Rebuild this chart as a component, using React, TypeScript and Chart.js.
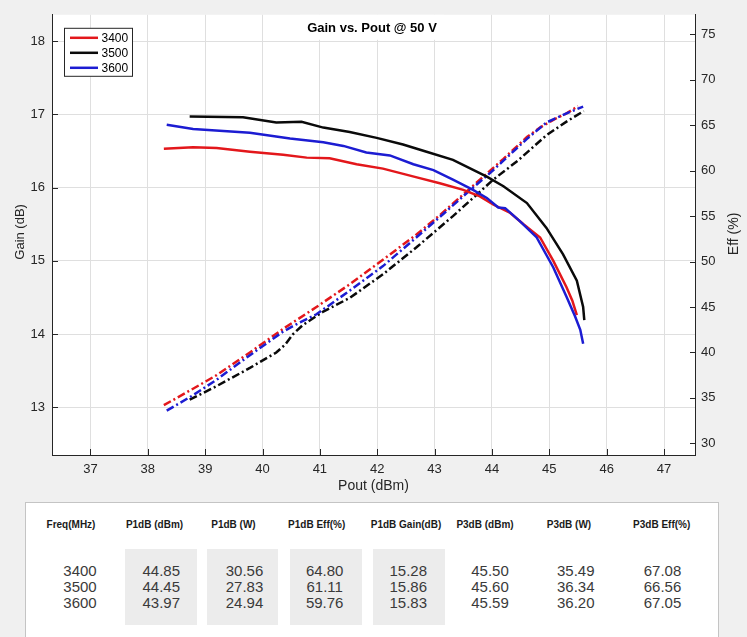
import React, { useEffect, useRef } from "react";
import { Chart, registerables } from "chart.js";

Chart.register(...registerables);

// ---------------- data ----------------
const TITLE = "Gain vs. Pout @ 50 V";
const X_TITLE = "Pout (dBm)";
const Y_TITLE = "Gain (dB)";
const Y1_TITLE = "Eff (%)";
const seriesNames = ["3400", "3500", "3600"];
const seriesColors = ["#e3171b", "#0a0a0a", "#1c1cd2"];

// Gain curves (Pout dBm -> Gain dB)
const gainX3400 = [38.28, 38.79, 39.2, 39.78, 40.36, 40.77, 41.17, 41.64, 42.1, 42.69, 43.09, 43.5, 43.79, 44.02, 44.31, 44.55, 44.84, 45.07, 45.3, 45.4, 45.48];
const gain3400 = [16.53, 16.55, 16.54, 16.49, 16.45, 16.41, 16.4, 16.32, 16.26, 16.14, 16.06, 15.97, 15.88, 15.77, 15.66, 15.5, 15.32, 15.0, 14.64, 14.46, 14.26];

const gainX3500 = [38.73, 39.66, 40.24, 40.68, 41.06, 41.52, 41.99, 42.45, 42.86, 43.32, 43.91, 44.2, 44.61, 44.95, 45.24, 45.48, 45.59, 45.61];
const gain3500 = [16.97, 16.96, 16.89, 16.9, 16.82, 16.76, 16.68, 16.59, 16.49, 16.38, 16.15, 16.02, 15.79, 15.45, 15.09, 14.73, 14.37, 14.19];

const gainX3600 = [38.33, 38.79, 39.78, 40.48, 41.06, 41.41, 41.81, 42.22, 42.63, 42.98, 43.32, 43.67, 43.91, 44.11, 44.23, 44.49, 44.78, 45.07, 45.3, 45.45, 45.54, 45.59];
const gain3600 = [16.86, 16.8, 16.75, 16.67, 16.62, 16.57, 16.48, 16.44, 16.32, 16.24, 16.11, 15.97, 15.86, 15.73, 15.72, 15.54, 15.32, 14.91, 14.51, 14.24, 14.06, 13.87];

// Efficiency curves (Pout dBm -> Eff %)
const effX3400 = [38.28, 38.73, 39.2, 39.78, 40.36, 40.94, 41.52, 42.1, 42.69, 43.09, 43.61, 44.2, 44.61, 44.85, 45.1, 45.3, 45.5];
const eff3400 = [34.2, 35.8, 37.5, 40.0, 42.6, 45.0, 47.5, 50.2, 53.0, 55.1, 58.0, 61.3, 63.7, 64.8, 65.7, 66.3, 67.1];

const effX3500 = [38.73, 39.2, 39.78, 40.24, 40.4, 40.53, 40.7, 41.06, 41.52, 42.1, 42.69, 43.32, 44.02, 44.45, 44.95, 45.3, 45.6];
const eff3500 = [34.8, 36.3, 38.3, 40.0, 40.9, 42.0, 43.0, 44.5, 46.0, 48.6, 51.6, 55.0, 59.0, 61.1, 63.9, 65.4, 66.56];

const effX3600 = [38.33, 38.79, 39.2, 39.78, 40.36, 40.59, 40.94, 41.52, 42.1, 42.69, 43.09, 43.61, 43.97, 44.2, 44.61, 44.95, 45.3, 45.59];
const eff3600 = [33.6, 35.3, 37.0, 39.7, 42.3, 43.1, 44.2, 46.8, 49.5, 52.7, 54.9, 57.8, 59.76, 61.1, 63.5, 65.3, 66.3, 67.05];

// Axis limits / ticks
const X_MIN = 36.33, X_MAX = 47.54, X_STEP = 1;
const Y_MIN = 12.35, Y_MAX = 18.36, Y_STEP = 1;
const Y1_MIN = 28.72, Y1_MAX = 77.15, Y1_STEP = 5;

// Table
const tableHeaders = ["Freq(MHz)", "P1dB (dBm)", "P1dB (W)", "P1dB Eff(%)", "P1dB Gain(dB)", "P3dB (dBm)", "P3dB (W)", "P3dB Eff(%)"];
const tableFreq = ["3400", "3500", "3600"];
const tableP1dBm = ["44.85", "44.45", "43.97"];
const tableP1W = ["30.56", "27.83", "24.94"];
const tableP1Eff = ["64.80", "61.11", "59.76"];
const tableP1Gain = ["15.28", "15.86", "15.83"];
const tableP3dBm = ["45.50", "45.60", "45.59"];
const tableP3W = ["35.49", "36.34", "36.20"];
const tableP3Eff = ["67.08", "66.56", "67.05"];

// ---------------- styling / layout ----------------
const FONT = '"Liberation Sans", Arial, Helvetica, sans-serif';
const AXIS = "#262626";
const GRID = "#dfdfdf";
const FIG_BG = "#f0f0f0";
const CANVAS_W = 747, CANVAS_H = 500;

const headerCenters = [71, 154.5, 233.5, 316.7, 406, 485, 569, 661.7];
const dataCenters = [80, 161.3, 244.5, 324.7, 408.3, 490, 575.8, 662.5];
const shadedCols = [1, 2, 3, 4];
const shadeBoxes = [[125, 197], [207, 278], [290, 362], [373, 445]];

function pts(xs: number[], ys: number[]) {
  return xs.map((x, i) => ({ x, y: ys[i] }));
}

const decorPlugin = {
  id: "decor",
  beforeDraw(chart: any) {
    const { ctx, chartArea: a } = chart;
    ctx.save();
    ctx.fillStyle = "#ffffff";
    ctx.fillRect(a.left, a.top, a.right - a.left, a.bottom - a.top);
    ctx.restore();
  },
  afterDraw(chart: any) {
    const { ctx, chartArea: a, scales } = chart;
    ctx.save();
    // inward ticks
    ctx.strokeStyle = AXIS;
    ctx.lineWidth = 1;
    ctx.beginPath();
    scales.x.ticks.forEach((t: any) => {
      const px = Math.round(scales.x.getPixelForValue(t.value)) + 0.5;
      ctx.moveTo(px, a.bottom);
      ctx.lineTo(px, a.bottom - 6);
    });
    scales.y.ticks.forEach((t: any) => {
      const py = Math.round(scales.y.getPixelForValue(t.value)) + 0.5;
      ctx.moveTo(a.left, py);
      ctx.lineTo(a.left + 6, py);
    });
    scales.y1.ticks.forEach((t: any) => {
      const py = Math.round(scales.y1.getPixelForValue(t.value)) + 0.5;
      ctx.moveTo(a.right, py);
      ctx.lineTo(a.right - 5, py);
    });
    ctx.stroke();

    // title with white backing
    const cx = (a.left + a.right) / 2 - 1.5;
    ctx.fillStyle = "#ffffff";
    ctx.fillRect(cx - 72, a.top, 144, 25);
    ctx.fillStyle = "#000000";
    ctx.font = `bold 13px ${FONT}`;
    ctx.textAlign = "center";
    ctx.textBaseline = "middle";
    ctx.fillText(TITLE, cx, a.top + 14);

    // legend
    const lx = a.left + 12.5, ly = a.top + 13.5;
    ctx.fillStyle = "#ffffff";
    ctx.fillRect(lx, ly, 68, 48);
    ctx.strokeStyle = AXIS;
    ctx.lineWidth = 1;
    ctx.strokeRect(lx, ly, 68, 48);
    ctx.font = `12px ${FONT}`;
    ctx.textAlign = "left";
    seriesNames.forEach((name, i) => {
      const yy = ly + 9.5 + i * 15;
      ctx.strokeStyle = seriesColors[i];
      ctx.lineWidth = 2.5;
      ctx.beginPath();
      ctx.moveTo(lx + 5.5, yy);
      ctx.lineTo(lx + 33.5, yy);
      ctx.stroke();
      ctx.fillStyle = "#000000";
      ctx.fillText(name, lx + 37, yy + 0.5);
    });

    // axis titles
    ctx.fillStyle = AXIS;
    ctx.textAlign = "center";
    ctx.textBaseline = "middle";
    ctx.font = `14px ${FONT}`;
    ctx.fillText(X_TITLE, (a.left + a.right) / 2, a.bottom + 31);

    ctx.save();
    ctx.translate(20.5, (a.top + a.bottom) / 2 - 3);
    ctx.rotate(-Math.PI / 2);
    ctx.font = `13px ${FONT}`;
    ctx.fillText(Y_TITLE, 0, 0);
    ctx.restore();

    ctx.save();
    ctx.translate(734, (a.top + a.bottom) / 2 - 1);
    ctx.rotate(-Math.PI / 2);
    ctx.font = `14px ${FONT}`;
    ctx.fillText(Y1_TITLE, 0, 0);
    ctx.restore();

    ctx.restore();
  },
};

function ChartCanvas() {
  const ref = useRef<HTMLCanvasElement | null>(null);
  useEffect(() => {
    if (!ref.current) return;
    const tickFont = { family: FONT, size: 13 };
    const mk = (i: number, xs: number[], ys: number[], axis: string, dashed: boolean) => ({
      label: seriesNames[i] + (dashed ? " Eff" : " Gain"),
      data: pts(xs, ys),
      borderColor: seriesColors[i],
      backgroundColor: seriesColors[i],
      borderWidth: 2.5,
      borderDash: dashed ? [8, 3, 2, 3] : [],
      pointRadius: 0,
      fill: false,
      tension: 0,
      yAxisID: axis,
      order: 10 - i - (dashed ? 0 : 3),
    });
    const chart = new Chart(ref.current, {
      type: "line",
      data: {
        datasets: [
          mk(0, gainX3400, gain3400, "y", false),
          mk(1, gainX3500, gain3500, "y", false),
          mk(2, gainX3600, gain3600, "y", false),
          mk(0, effX3400, eff3400, "y1", true),
          mk(1, effX3500, eff3500, "y1", true),
          mk(2, effX3600, eff3600, "y1", true),
        ] as any,
      },
      options: {
        animation: false,
        responsive: false,
        events: [],
        layout: { padding: { top: 12, left: 0, right: 0, bottom: 0 } },
        plugins: {
          legend: { display: false },
          title: { display: false },
          tooltip: { enabled: false },
        },
        scales: {
          x: {
            type: "linear",
            position: "bottom",
            min: X_MIN,
            max: X_MAX,
            ticks: { stepSize: X_STEP, includeBounds: false, padding: 7, font: tickFont, color: AXIS, maxRotation: 0, autoSkip: false },
            grid: { color: GRID, drawTicks: false, lineWidth: 1 },
            border: { display: true, color: AXIS, width: 1 },
            afterFit: (s: any) => { s.height = 45; },
          },
          y: {
            type: "linear",
            position: "left",
            min: Y_MIN,
            max: Y_MAX,
            ticks: { stepSize: Y_STEP, includeBounds: false, padding: 7, font: tickFont, color: AXIS },
            grid: { color: GRID, drawTicks: false, lineWidth: 1 },
            border: { display: true, color: AXIS, width: 1 },
            afterFit: (s: any) => { s.width = 52; },
          },
          y1: {
            type: "linear",
            position: "right",
            min: Y1_MIN,
            max: Y1_MAX,
            ticks: { stepSize: Y1_STEP, includeBounds: false, padding: 6, font: tickFont, color: AXIS },
            grid: { display: false, drawTicks: false },
            border: { display: true, color: AXIS, width: 1 },
            afterFit: (s: any) => { s.width = 52; },
          },
        },
      } as any,
      plugins: [decorPlugin],
    });
    return () => chart.destroy();
  }, []);
  return (
    <canvas
      ref={ref}
      width={CANVAS_W}
      height={CANVAS_H}
      style={{ position: "absolute", left: 0, top: 0, width: CANVAS_W, height: CANVAS_H }}
    />
  );
}

export default function App() {
  const columns = [tableFreq, tableP1dBm, tableP1W, tableP1Eff, tableP1Gain, tableP3dBm, tableP3W, tableP3Eff];
  return (
    <div
      style={{
        position: "fixed",
        left: 0,
        top: 0,
        width: 747,
        height: 637,
        background: FIG_BG,
        overflow: "hidden",
        fontFamily: FONT,
      }}
    >
      <ChartCanvas />
      <div
        style={{
          position: "absolute",
          left: 25,
          top: 502,
          width: 694,
          height: 150,
          background: "#ffffff",
          border: "1px solid #c4c4c4",
          boxSizing: "border-box",
        }}
      />
      {shadeBoxes.map(([l, r], i) => (
        <div
          key={"box" + i}
          style={{ position: "absolute", left: l, top: 549, width: r - l, height: 76, background: "#ececec" }}
        />
      ))}
      {tableHeaders.map((h, i) => (
        <div
          key={"h" + i}
          style={{
            position: "absolute",
            left: headerCenters[i] - 60,
            width: 120,
            top: 518,
            height: 14,
            lineHeight: "14px",
            textAlign: "center",
            fontSize: 10,
            fontWeight: "bold",
            color: "#1a1a1a",
            whiteSpace: "nowrap",
          }}
        >
          {h}
        </div>
      ))}
      {columns.map((col, i) => (
        <div
          key={"c" + i}
          style={{
            position: "absolute",
            left: dataCenters[i] - 40,
            width: 80,
            top: 562.5,
            lineHeight: "16.3px",
            textAlign: "center",
            fontSize: 15,
            color: "#3a3a3a",
            whiteSpace: "nowrap",
          }}
        >
          {col.map((v, j) => (
            <div key={j}>{v}</div>
          ))}
        </div>
      ))}
    </div>
  );
}
